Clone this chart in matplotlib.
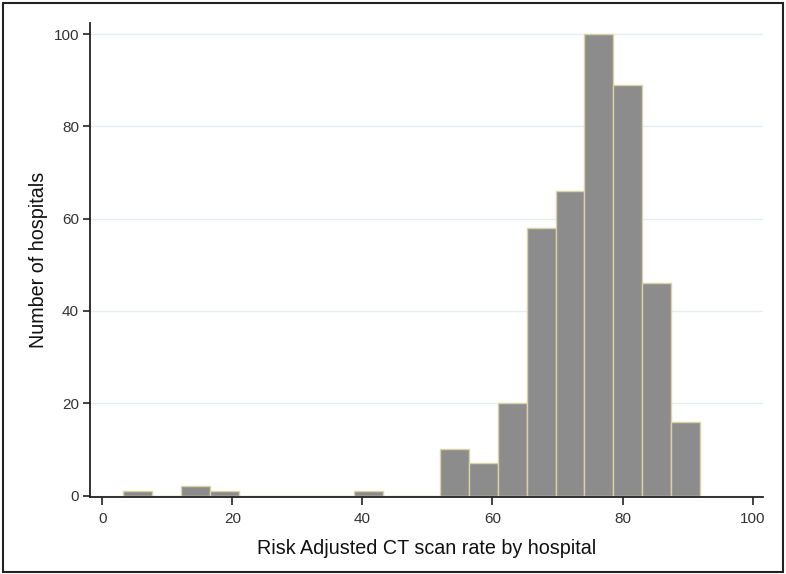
import matplotlib
matplotlib.use("Agg")
import matplotlib.pyplot as plt
import numpy as np
from matplotlib.patches import Rectangle

plt.rcParams['font.family'] = ['Liberation Sans', 'DejaVu Sans']

# Histogram data (20 bins)
bin_start = 3.25
bin_width = 4.43
counts = [1, 0, 2, 1, 0, 0, 0, 0, 1, 0, 0, 10, 7, 20, 58, 66, 100, 89, 46, 16]
x_ticks = [0, 20, 40, 60, 80, 100]
y_ticks = [0, 20, 40, 60, 80, 100]
x_label = "Risk Adjusted CT scan rate by hospital"
y_label = "Number of hospitals"

edges = bin_start + bin_width * np.arange(len(counts) + 1)

fig = plt.figure(figsize=(7.86, 5.74), dpi=100)
fig.patch.set_facecolor('white')
ax = fig.add_axes([90/786, 1-497/574, (763-90)/786, (497-23)/574])

ax.set_axisbelow(True)
ax.yaxis.grid(True, color='#e6eef2', linewidth=1.0)
ax.xaxis.grid(False)

ax.bar(edges[:-1], counts, width=bin_width, align='edge',
       color='#8c8c8c', edgecolor='#d9d3a3', linewidth=1.0, zorder=2)

ax.set_xlim(-1.9, 101.6)
ax.set_ylim(-0.3, 102.4)
ax.set_xticks(x_ticks)
ax.set_yticks(y_ticks)
ax.tick_params(axis='both', direction='out', width=1.2, color='#222222',
               labelsize=11, labelcolor='#333333')
ax.tick_params(axis='y', length=5, pad=3)
ax.tick_params(axis='x', length=6, pad=4.5)
for s in ['top', 'right']:
    ax.spines[s].set_visible(False)
for s in ['left', 'bottom']:
    ax.spines[s].set_linewidth(1.3)
    ax.spines[s].set_color('#222222')

ax.set_xlabel(x_label, fontsize=14.2, color='#111111', labelpad=9.5)
ax.set_ylabel(y_label, fontsize=14.2, color='#111111', labelpad=4)

fig.add_artist(Rectangle((3/786, 1-572/574), 780/786, 569/574,
                         transform=fig.transFigure, fill=False,
                         edgecolor='#222222', linewidth=1.5))

fig.savefig('out.png', dpi=100, facecolor='white')
